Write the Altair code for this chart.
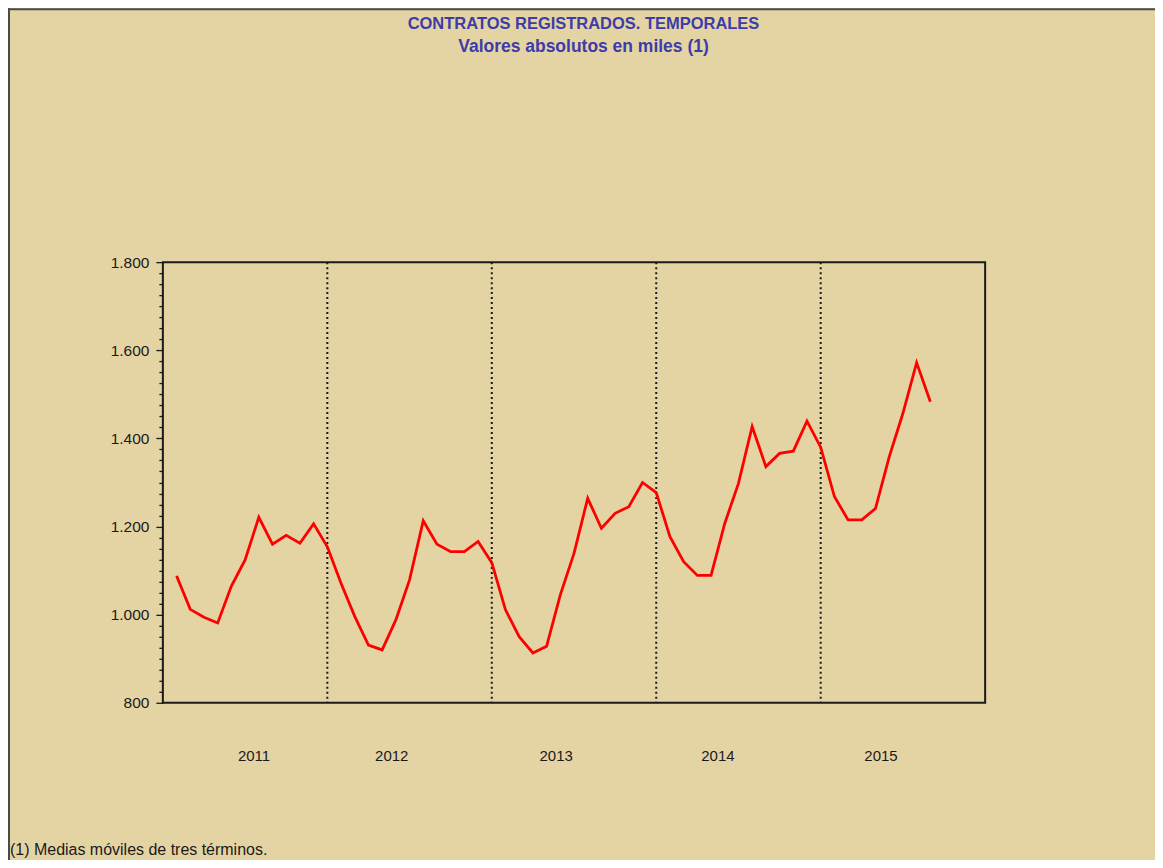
import altair as alt
import pandas as pd

# ---- data ----
month_index = list(range(1, 57))  # months since Jan 2011 (x position)
values = [1088, 1012, 994, 981, 1065, 1124, 1221, 1160, 1180, 1162, 1206, 1154,
          1071, 996, 931, 920, 988, 1079, 1213, 1160, 1143, 1143, 1166, 1118,
          1011, 950, 913, 928, 1045, 1139, 1264, 1196, 1230, 1245, 1300, 1277,
          1177, 1120, 1089, 1089, 1207, 1298, 1427, 1336, 1366, 1371, 1439, 1380,
          1268, 1215, 1215, 1241, 1358, 1457, 1572, 1483]
year_labels = ["2011", "2012", "2013", "2014", "2015"]
year_label_pos = [6.65, 16.7, 28.7, 40.5, 52.4]
year_breaks = [12, 24, 36, 48]
title_lines = ["CONTRATOS REGISTRADOS. TEMPORALES", "Valores absolutos en miles (1)"]
footnote = "(1) Medias móviles de tres términos."

FONT = "Liberation Sans"
INK = "#1a1a1a"
BG = "#e5d4a3"
TITLE_COLOR = "#3c3caa"
W, H = 823, 441

df = pd.DataFrame({"m": month_index, "v": values})
x_scale = alt.Scale(domain=[0, 60], nice=False, zero=False)
y_scale = alt.Scale(domain=[800, 1800], nice=False, zero=False)

x_axis = alt.Axis(
    values=list(range(0, 61)), labels=False, title=None, domain=False, grid=False,
    tickColor=INK, tickWidth=1.3,
    tickSize={"condition": {"test": "datum.value % 12 === 0", "value": 6}, "value": 4},
)
y_axis = alt.Axis(
    values=list(range(800, 1801, 25)), title=None, domain=False, grid=False,
    tickColor=INK, tickWidth=1.3,
    tickSize={"condition": {"test": "datum.value % 200 === 0", "value": 7}, "value": 4},
    labelExpr="datum.value % 200 === 0 ? replace(format(datum.value, ','), ',', '.') : ''",
    labelOverlap=False, labelFont=FONT, labelFontSize=15.5, labelColor=INK, labelPadding=7,
)

line = alt.Chart(df).mark_line(color="#ff0000", strokeWidth=2.8).encode(
    x=alt.X("m:Q", scale=x_scale, axis=x_axis),
    y=alt.Y("v:Q", scale=y_scale, axis=y_axis),
)

dividers = alt.Chart(pd.DataFrame({"b": year_breaks})).mark_rule(
    color=INK, strokeDash=[2, 3], strokeWidth=2
).encode(x=alt.X("b:Q", scale=x_scale, axis=None))

years = alt.Chart(pd.DataFrame({"t": year_labels, "p": year_label_pos})).mark_text(
    font=FONT, fontSize=15, color=INK, baseline="alphabetic", align="center"
).encode(x=alt.X("p:Q", scale=x_scale, axis=None), y=alt.value(499), text="t:N")

title1 = alt.Chart(pd.DataFrame({"t": [title_lines[0]]})).mark_text(
    font=FONT, fontSize=16.5, fontWeight="bold", color=TITLE_COLOR, align="center", baseline="alphabetic"
).encode(x=alt.value(421), y=alt.value(-233), text="t:N")

title2 = alt.Chart(pd.DataFrame({"t": [title_lines[1]]})).mark_text(
    font=FONT, fontSize=17.5, fontWeight="bold", color=TITLE_COLOR, align="center", baseline="alphabetic"
).encode(x=alt.value(421), y=alt.value(-210), text="t:N")

note = alt.Chart(pd.DataFrame({"t": [footnote]})).mark_text(
    font=FONT, fontSize=16, color=INK, align="left", baseline="alphabetic"
).encode(x=alt.value(-153), y=alt.value(593), text="t:N")

border_top = alt.Chart(pd.DataFrame({"d": [0]})).mark_rule(color="#4a4a4a", strokeWidth=2).encode(
    x=alt.value(-155), x2=alt.value(1000), y=alt.value(-253)
)
border_left = alt.Chart(pd.DataFrame({"d": [0]})).mark_rule(color="#4a4a4a", strokeWidth=2).encode(
    x=alt.value(-154), y=alt.value(-254), y2=alt.value(600)
)

chart = alt.layer(
    dividers, line, years, title1, title2, note, border_top, border_left
).properties(
    width=W, height=H,
    autosize=alt.AutoSizeParams(type="none"),
    padding={"left": 155, "top": 254, "right": 170, "bottom": 157},
    background=BG,
).configure_view(stroke=INK, strokeWidth=2, fill=None)

chart.save("out.html", embed_options={"renderer": "svg", "actions": False})
